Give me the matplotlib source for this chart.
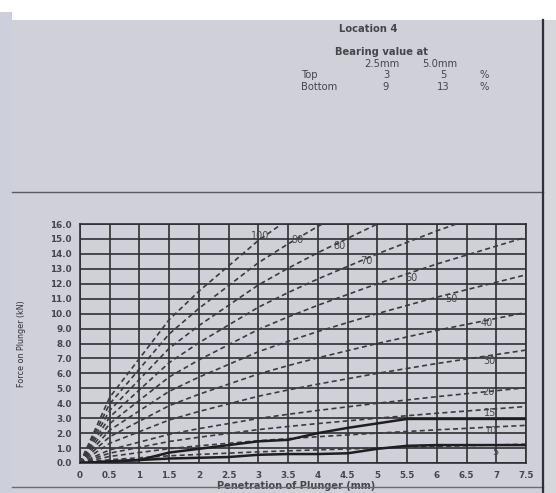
import matplotlib
matplotlib.use("Agg")
import matplotlib.pyplot as plt
from matplotlib.lines import Line2D

# ---- data ----
penetration = [0, 0.5, 1, 1.5, 2, 2.5, 3, 3.5, 4, 4.5, 5, 5.5, 6, 6.5, 7, 7.5]
standard_force = [0, 4.4, 7.0, 9.6, 11.5, 13.2, 14.9, 16.3, 17.6, 18.8, 20.0,
                  21.1, 22.2, 23.2, 24.2, 25.2]  # 100 % curve (kN)
cbr_levels = [100, 90, 80, 70, 60, 50, 40, 30, 20, 15, 10, 5]
bottom_force = [0, 0.1, 0.2, 0.7, 0.95, 1.2, 1.45, 1.55, 2.0, 2.35, 2.65,
                2.95, 2.95, 2.95, 2.95, 2.95]
top_force = [0, 0.1, 0.2, 0.3, 0.35, 0.4, 0.55, 0.6, 0.6, 0.65, 0.95,
             1.15, 1.2, 1.2, 1.2, 1.2]
x_ticks = [0, 0.5, 1, 1.5, 2, 2.5, 3, 3.5, 4, 4.5, 5, 5.5, 6, 6.5, 7, 7.5]
x_tick_labels = ["0", "0.5", "1", "1.5", "2", "2.5", "3", "3.5", "4", "4.5",
                 "5", "5.5", "6", "6.5", "7", "7.5"]
y_ticks = list(range(0, 17))
y_tick_labels = [f"{v:.1f}" for v in y_ticks]
# label anchor points for each CBR curve (data coords)
label_x = [3.03, 3.66, 4.37, 4.82, 5.58, 6.25, 6.84, 6.89, 6.86, 6.89, 6.92, 6.99]
label_y = [15.2, 14.95, 14.5, 13.55, 12.4, 11.0, 9.4, 6.85, 4.77, 3.36, 2.15, 0.74]

page = "#d0d1d8"
ink = "#2e2e33"
text_c = "#45454c"

W, H = 556, 493
fig = plt.figure(figsize=(W / 100, H / 100), dpi=100, facecolor=page)

def fx(px):
    return px / W

def fy(py):
    return 1 - py / H

# photo surroundings
fig.patches.append(plt.Rectangle((0, fy(20)), 1, 1 - fy(20), transform=fig.transFigure,
                                 facecolor="white", edgecolor="none", zorder=-5))
fig.patches.append(plt.Rectangle((0, 0), fx(12), fy(12), transform=fig.transFigure,
                                 facecolor="#cdd0da", edgecolor="none", zorder=-4))
fig.patches.append(plt.Rectangle((fx(545), 0), 1 - fx(545), fy(20), transform=fig.transFigure,
                                 facecolor="#d6d7dc", edgecolor="none", zorder=-4))
fig.add_artist(Line2D([fx(12), fx(543)], [fy(192), fy(192)], color="#5a5a60", lw=1.0))
fig.add_artist(Line2D([fx(12), fx(543)], [fy(487), fy(487)], color="#6a6a70", lw=1.0))
fig.add_artist(Line2D([fx(543), fx(543)], [fy(20), 0], color="#303036", lw=1.6))

# header text
hdr = dict(color=text_c, fontsize=7.2, family="DejaVu Sans")
fig.text(fx(368), fy(29), "Location 4", ha="center", va="center", fontweight="bold", **hdr)
fig.text(fx(382), fy(52), "Bearing value at", ha="center", va="center", fontweight="bold", **hdr)
fig.text(fx(382), fy(64), "2.5mm", ha="center", va="center", **hdr)
fig.text(fx(440), fy(64), "5.0mm", ha="center", va="center", **hdr)
fig.text(fx(301), fy(75), "Top", ha="left", va="center", **hdr)
fig.text(fx(386), fy(75), "3", ha="center", va="center", **hdr)
fig.text(fx(443), fy(75), "5", ha="center", va="center", **hdr)
fig.text(fx(484), fy(75), "%", ha="center", va="center", **hdr)
fig.text(fx(301), fy(87), "Bottom", ha="left", va="center", **hdr)
fig.text(fx(386), fy(87), "9", ha="center", va="center", **hdr)
fig.text(fx(443), fy(87), "13", ha="center", va="center", **hdr)
fig.text(fx(484), fy(87), "%", ha="center", va="center", **hdr)

# chart
ax = fig.add_axes([fx(80), fy(463), fx(526) - fx(80), fy(224) - fy(463)])
ax.set_facecolor(page)
ax.set_xlim(0, 7.5)
ax.set_ylim(0, 16)
ax.set_xticks(x_ticks)
ax.set_xticklabels(x_tick_labels)
ax.set_yticks(y_ticks)
ax.set_yticklabels(y_tick_labels)
ax.tick_params(length=0, labelsize=6.3, labelcolor=text_c, pad=6)
for lbl in ax.get_xticklabels() + ax.get_yticklabels():
    lbl.set_fontweight("bold")
ax.grid(True, color=ink, lw=1.2)
ax.set_axisbelow(True)
for s in ax.spines.values():
    s.set_color(ink)
    s.set_linewidth(1.2)

for lvl in cbr_levels:
    ax.plot(penetration, [f * lvl / 100 for f in standard_force], color="#3a3a40",
            lw=1.2, ls=(0, (3, 2)), zorder=3)

ax.plot(penetration, bottom_force, color="#1e1e22", lw=1.8, zorder=4)
ax.plot(penetration, top_force, color="#1e1e22", lw=1.8, zorder=4)

for lvl, lx, ly in zip(cbr_levels, label_x, label_y):
    ax.text(lx, ly, str(lvl), fontsize=7, color="#45454b", ha="center", va="center", zorder=5)

ax.set_xlabel("Penetration of Plunger (mm)", fontsize=7, fontweight="bold",
              color=text_c)
ax.xaxis.set_label_coords(0.485, -0.075)
ax.set_ylabel("Force on Plunger (kN)", fontsize=5.8, color="#303036")
ax.yaxis.set_label_coords(-0.12, 0.5)

fig.savefig("out.png", dpi=100, facecolor=page)
